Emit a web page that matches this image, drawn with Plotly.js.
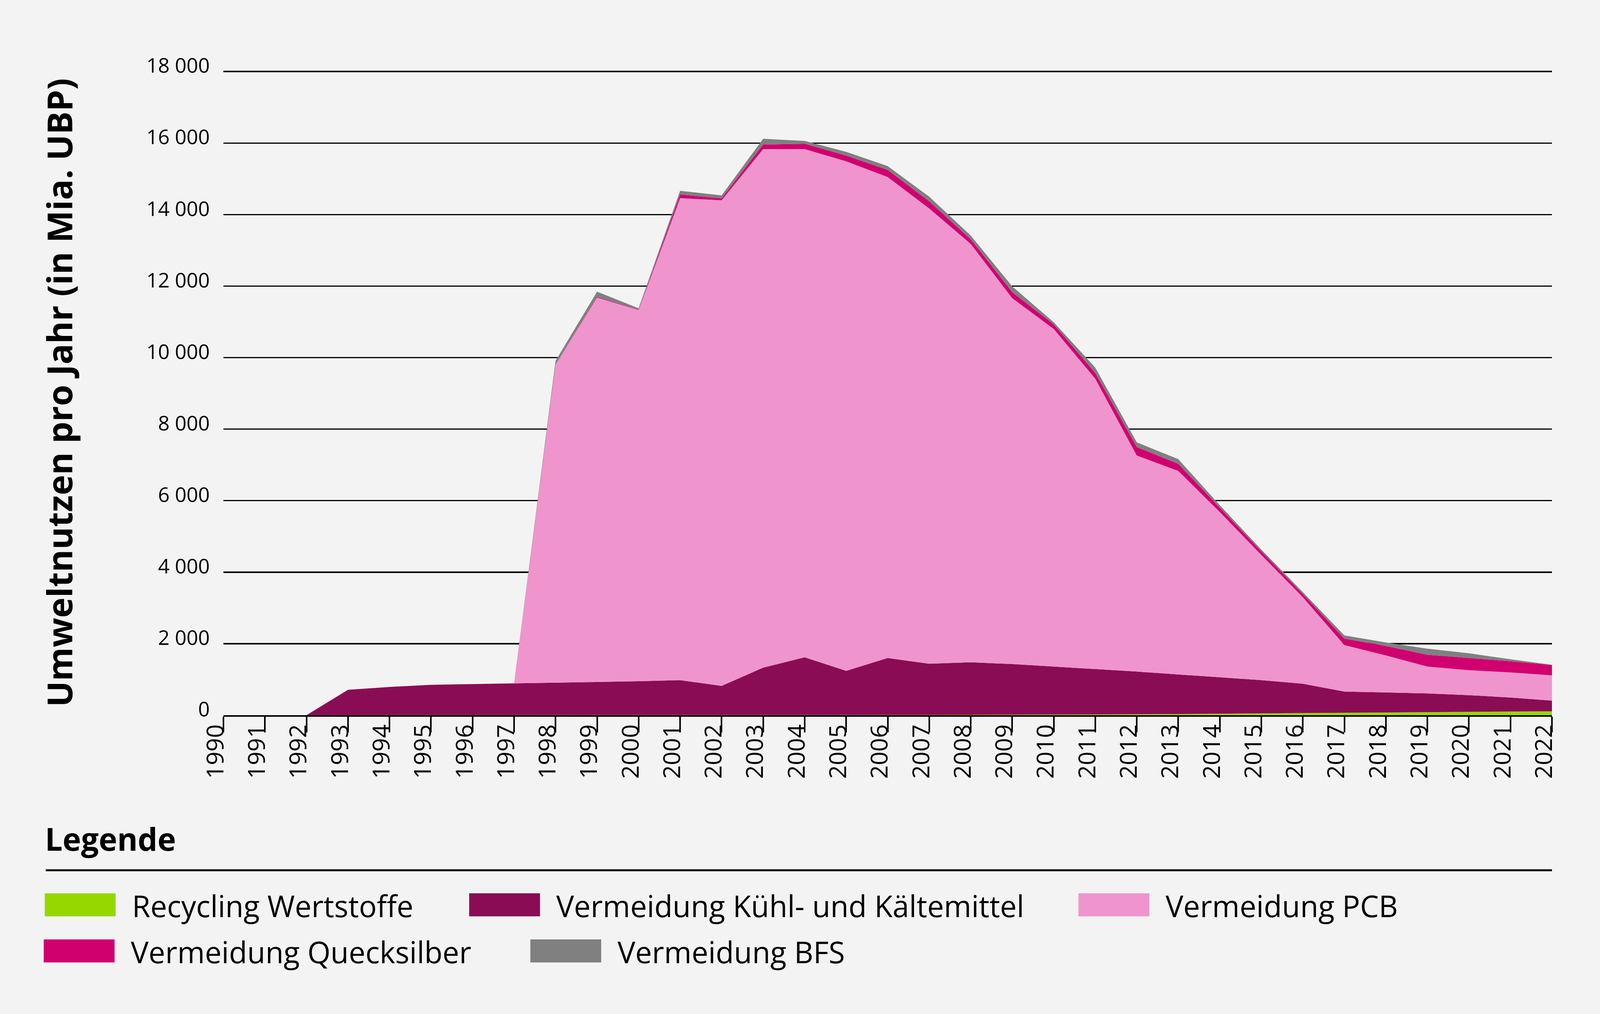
<!DOCTYPE html>
<html>
<head>
<meta charset="utf-8">
<script src="https://cdn.plot.ly/plotly-3.0.1.min.js"></script>
<style>
    html, body { margin: 0; padding: 0; background: #f3f3f3; overflow: hidden; }
</style>
</head>
<body>
<div id="chart"></div>
<script>
// Umweltnutzen pro Jahr (in Mia. UBP)
const years = [1990, 1991, 1992, 1993, 1994, 1995, 1996, 1997, 1998, 1999,
               2000, 2001, 2002, 2003, 2004, 2005, 2006, 2007, 2008, 2009,
               2010, 2011, 2012, 2013, 2014, 2015, 2016, 2017, 2018, 2019,
               2020, 2021, 2022]

const recycling = [0, 0, 0, 0, 0, 0, 0, 0, 0, 0,
                   0, 0, 0, 0, 0, 3, 5, 8, 10, 13,
                   17, 22, 28, 34, 42, 50, 60, 70, 80, 88,
                   95, 102, 110]

const kuehl = [0, 0, 0, 710, 790, 850, 870, 890, 910, 930,
               950, 980, 820, 1330, 1620, 1237, 1595, 1432, 1470, 1417,
               1343, 1268, 1192, 1106, 1018, 930, 820, 590, 555, 522,
               465, 393, 298]

const pcb = [0, 0, 0, 0, 0, 0, 0, 0, 8890, 10750,
             10380, 13480, 13580, 14500, 14210, 14250, 13450, 12730, 11700, 10230,
             9440, 8120, 6040, 5690, 4620, 3500, 2420, 1300, 1035, 750,
             700, 700, 707]

const quecksilber = [0, 0, 0, 0, 0, 0, 0, 0, 0, 20,
                     10, 100, 55, 130, 150, 160, 200, 200, 130, 170,
                     130, 160, 240, 200, 120, 100, 90, 180, 265, 330,
                     340, 315, 288]

const bfs = [0, 0, 0, 0, 0, 0, 0, 0, 110, 145,
             40, 105, 80, 160, 80, 105, 105, 130, 105, 160,
             60, 150, 130, 130, 70, 50, 50, 90, 100, 170,
             130, 55, 7]

const series_names = ["Recycling Wertstoffe", "Vermeidung Kühl- und Kältemittel",
                      "Vermeidung PCB", "Vermeidung Quecksilber", "Vermeidung BFS"]

const y_ticks = [0, 2000, 4000, 6000, 8000, 10000, 12000, 14000, 16000, 18000]

// page geometry: designed on a 4630 wide page, squeezed to the real window width
const W = window.innerWidth || 4630
const H = 2596
const sx = W / 4630
const y_top = 18100   // a little headroom so the 18 000 gridline is drawn
const plot_l = 647 * sx, plot_r = 4491 * sx, plot_b = 1831
const plot_t = plot_b - (1831 - 183) * y_top / 18000
const font_family = "'Open Sans', 'Noto Sans', sans-serif"

// reference pixel -> paper coords
function px_x(px) { return (px * sx - plot_l) / (plot_r - plot_l) }
function px_y(py) { return (plot_b - py) / (plot_b - plot_t) }

const series = [recycling, kuehl, pcb, quecksilber, bfs]
const fill_colors = ["#97d700", "#8a0c55", "#f094cd", "#d1006f", "#808080"]

const data = series.map((vals, i) => ({
    x: years,
    y: vals,
    name: series_names[i],
    type: 'scatter',
    mode: 'lines',
    stackgroup: 'one',
    line: { width: 0, color: fill_colors[i] },
    fillcolor: fill_colors[i],
    hoverinfo: 'skip'
}))

// legend, drawn by hand to get the large swatches
const legend_pos = [
    { x: 130, y: 2287 },
    { x: 1358, y: 2287 },
    { x: 3121, y: 2287 },
    { x: 127, y: 2405 },
    { x: 1535, y: 2405 },
]
const swatch_w = 205, swatch_h = 59

const shapes = [{
    type: 'line', xref: 'paper', yref: 'paper',
    x0: px_x(133), x1: px_x(4491), y0: px_y(2228), y1: px_y(2228),
    line: { color: '#000000', width: 5 }
}]
const annotations = [{
    text: "<b>Umweltnutzen pro Jahr (in Mia. UBP)</b>",
    xref: 'paper', yref: 'paper', x: px_x(171), y: px_y(1005),
    xanchor: 'center', yanchor: 'middle', textangle: -90, showarrow: false,
    font: { family: font_family, size: 88, color: '#000000' }
}, {
    text: "<b>Legende</b>",
    xref: 'paper', yref: 'paper', x: px_x(128), y: px_y(2147),
    xanchor: 'left', yanchor: 'middle', showarrow: false,
    font: { family: font_family, size: 80, color: '#000000' }
}]

legend_pos.forEach((p, i) => {
    shapes.push({
        type: 'rect', xref: 'paper', yref: 'paper',
        x0: px_x(p.x), x1: px_x(p.x + swatch_w),
        y0: px_y(p.y), y1: px_y(p.y + swatch_h),
        fillcolor: fill_colors[i], line: { width: 0 }
    })
    annotations.push({
        text: series_names[i],
        xref: 'paper', yref: 'paper',
        x: px_x(p.x + 250), y: px_y(p.y + swatch_h / 2 + 2),
        xanchor: 'left', yanchor: 'middle', showarrow: false,
        font: { family: font_family, size: 76, color: '#000000' }
    })
})

const layout = {
    width: W,
    height: H,
    paper_bgcolor: '#f3f3f3',
    plot_bgcolor: '#f3f3f3',
    showlegend: false,
    separators: '. ',
    margin: { l: plot_l, r: W - plot_r, t: plot_t, b: H - plot_b, pad: 0 },
    font: { family: font_family, color: '#000000' },
    xaxis: {
        range: [1990, 2022],
        tick0: 1990,
        dtick: 1,
        tickangle: -90,
        ticks: 'outside',
        ticklen: 40,
        tickwidth: 4,
        tickcolor: '#000000',
        showline: true,
        linecolor: '#000000',
        linewidth: 4,
        showgrid: false,
        zeroline: false,
        ticklabelstandoff: -45,
        ticklabelshift: -20,
        tickfont: { family: font_family, size: 61, color: '#000000' },
        fixedrange: true
    },
    yaxis: {
        range: [0, y_top],
        tickvals: y_ticks,
        separatethousands: true,
        tickformat: ',d',
        showgrid: true,
        gridcolor: '#000000',
        gridwidth: 3.5,
        zeroline: false,
        showline: false,
        ticks: '',
        ticklabelstandoff: 34,
        ticklabelshift: -15,
        tickfont: { family: font_family, size: 52, color: '#000000' },
        fixedrange: true
    },
    shapes: shapes,
    annotations: annotations
}

Plotly.newPlot("chart", data, layout, { displayModeBar: false, staticPlot: true })
</script>
</body>
</html>
